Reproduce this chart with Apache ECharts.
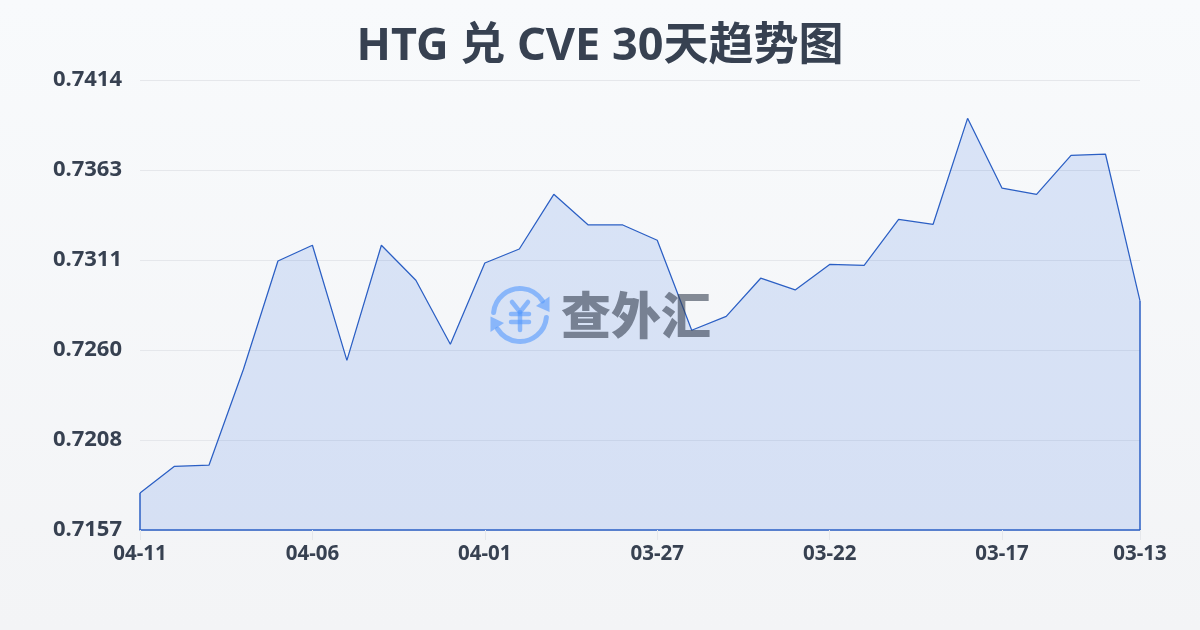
<!DOCTYPE html>
<html>
<head>
<meta charset="utf-8">
<style>html,body{margin:0;padding:0;background:#f8fafc}#c{width:1200px;height:630px}</style>
<script src="https://cdn.jsdelivr.net/npm/echarts@6/dist/echarts.min.js"></script>
</head>
<body>
<div id="c"></div>
<script>
const titleText = 'HTG 兑 CVE 30天趋势图';
const dates = ['04-11','04-10','04-09','04-08','04-07','04-06','04-05','04-04','04-03','04-02','04-01','03-31','03-30','03-29','03-28','03-27','03-26','03-25','03-24','03-23','03-22','03-21','03-20','03-19','03-18','03-17','03-16','03-15','03-14','03-13'];
const rates = [0.71781,0.71934,0.71940,0.72488,0.73106,0.73196,0.72539,0.73196,0.72996,0.72631,0.73095,0.73175,0.73487,0.73312,0.73312,0.73225,0.72711,0.72790,0.73008,0.72941,0.73087,0.73082,0.73344,0.73316,0.73921,0.73522,0.73487,0.73710,0.73716,0.72878];
const labelledIndexes = [0,5,10,15,20,25,29];
const axisMin = 0.7157, axisMax = 0.7414, axisStep = 0.00514;

const FONT = '"Noto Sans","Noto Sans CJK SC",sans-serif';
const INK = '#374151';
const LINE = '#2b5fc4';
const ICON = 'rgba(85,153,253,0.6)';
const showLabel = i => labelledIndexes.includes(i);

const chart = echarts.init(document.getElementById('c'), null, {renderer:'canvas'});
const edge = i => [{coord:[dates[i], rates[i]]},{coord:[dates[i], axisMin]}];
const iconStroke = {stroke:ICON, fill:'none', lineWidth:5, lineCap:'round', lineJoin:'round'};
chart.setOption({
  animation:false,
  backgroundColor:{type:'linear',x:0,y:0,x2:0,y2:1,colorStops:[{offset:0,color:'#f8fafc'},{offset:1,color:'#f3f4f6'}]},
  title:{text:titleText,left:'center',top:20,textStyle:{fontFamily:FONT,fontSize:45,fontWeight:'bold',color:INK}},
  grid:{left:140,right:60,top:80,bottom:100,containLabel:false},
  xAxis:{type:'category',data:dates,boundaryGap:false,
    axisLine:{show:true,lineStyle:{color:LINE,width:1.5}},
    axisTick:{show:true,length:10,interval:showLabel,lineStyle:{color:'#e5e7eb',width:1}},
    axisLabel:{interval:showLabel,showMinLabel:true,showMaxLabel:true,hideOverlap:false,margin:14,fontFamily:FONT,fontSize:20.5,fontWeight:'bold',color:INK},
    splitLine:{show:false}},
  yAxis:{type:'value',min:axisMin,max:axisMax,interval:axisStep,
    axisLine:{show:false},axisTick:{show:false},
    axisLabel:{margin:18,padding:[0,0,4,0],fontFamily:FONT,fontSize:22,fontWeight:'bold',color:INK,formatter:v=>v.toFixed(4)},
    splitLine:{show:true,lineStyle:{color:'#e5e7eb',width:1}}},
  graphic:[{type:'group',silent:true,z:100,children:[
    {type:'arc',z:100,shape:{cx:520,cy:315,r:26.5,startAngle:Math.PI*1.03,endAngle:Math.PI*1.82},style:iconStroke},
    {type:'arc',z:100,shape:{cx:520,cy:315,r:26.5,startAngle:Math.PI*0.03,endAngle:Math.PI*0.82},style:iconStroke},
    {type:'polygon',z:100,shape:{points:[[549.5,296.5],[549.5,312],[536,306]]},style:{fill:ICON}},
    {type:'polygon',z:100,shape:{points:[[490.5,316.5],[490.5,332],[504,323]]},style:{fill:ICON}},
    {type:'polyline',z:100,shape:{points:[[512,302],[520,312],[528,302]]},style:{...iconStroke,lineWidth:4.5}},
    {type:'line',z:100,shape:{x1:511,y1:314,x2:529,y2:314},style:{...iconStroke,lineWidth:4.5}},
    {type:'line',z:100,shape:{x1:511,y1:322,x2:529,y2:322},style:{...iconStroke,lineWidth:4.5}},
    {type:'line',z:100,shape:{x1:520,y1:312,x2:520,y2:330},style:{...iconStroke,lineWidth:4.5}},
    {type:'text',z:100,x:636,y:315,style:{text:'查外汇',fill:'rgba(55,65,81,0.6)',font:'900 50px "Noto Sans CJK SC"',align:'center',verticalAlign:'middle'}}
  ]}],
  series:[{type:'line',data:rates,smooth:false,showSymbol:false,symbol:'none',
    lineStyle:{color:LINE,width:1.25},
    areaStyle:{origin:'start',opacity:1,color:'rgba(37,99,225,0.14)'},
    markLine:{silent:true,symbol:'none',label:{show:false},lineStyle:{color:LINE,width:1.5,type:'solid'},animation:false,data:[edge(0),edge(dates.length-1)]}
  }]
});
</script>
</body>
</html>
